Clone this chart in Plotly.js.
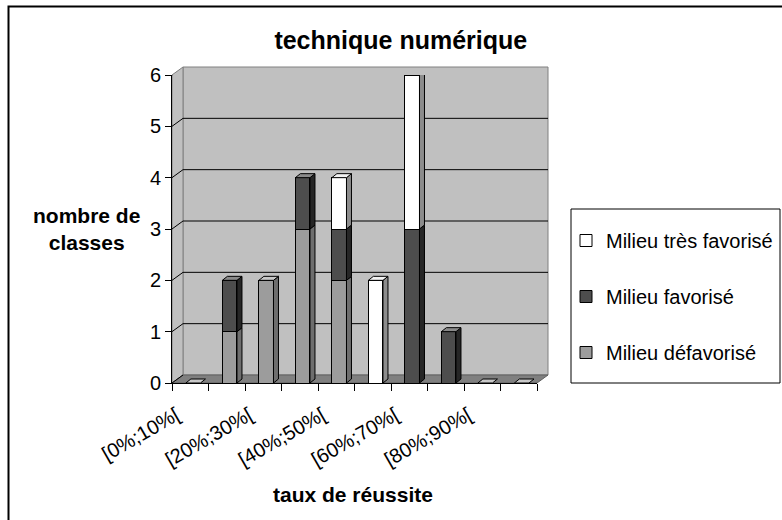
<!DOCTYPE html>
<html>
<head>
<meta charset="utf-8">
<script src="https://cdn.plot.ly/plotly-3.0.1.min.js"></script>
<style>html,body{margin:0;padding:0;background:#fff;}#chart{width:782px;height:520px;}</style>
</head>
<body>
<div id="chart"></div>
<script>
// ---- data ----
const categories = ['[0%;10%[', '[10%;20%[', '[20%;30%[', '[30%;40%[', '[40%;50%[',
                    '[50%;60%[', '[60%;70%[', '[70%;80%[', '[80%;90%[', '[90%;100%]'];
const seriesNames = ['Milieu défavorisé', 'Milieu favorisé', 'Milieu très favorisé'];
const defavorise   = [0, 1, 2, 3, 2, 0, 0, 0, 0, 0];
const favorise     = [0, 1, 0, 1, 1, 0, 3, 1, 0, 0];
const tresFavorise = [0, 0, 0, 0, 1, 2, 3, 0, 0, 0];
const yTicks = [0, 1, 2, 3, 4, 5, 6];
const chartTitle = 'technique numérique';
const xTitle = 'taux de réussite';
const yTitle = 'nombre de<br>classes';

// ---- styles ----
const FONT = 'Liberation Sans, Arial, sans-serif';
const frontCol = ['#9c9c9c', '#4d4d4d', '#ffffff'];
const sideCol  = ['#6e6e6e', '#262626', '#8c8c8c'];
const topCol   = ['#c8c8c8', '#8a8a8a', '#f2f2f2'];
const series = [defavorise, favorise, tresFavorise];
const xIdx = categories.map((_, i) => i);

const W = 0.4, OFF = -0.12;       // bar width / offset in category units
const DDX = 0.137, DDY = 0.078;   // bar depth in data units
const PW = 365, PH = 308;         // plot area size in px
const WDX = 11 / PW, WDY = 8 / PH; // wall depth in paper units

const traces = series.map((vals, s) => ({
  type: 'bar', name: seriesNames[s], x: xIdx, y: vals,
  width: W, offset: OFF, legendgroup: 'g' + s, legendrank: series.length - s,
  marker: {color: frontCol[s], line: {color: '#000', width: 1}},
  hoverinfo: 'skip'
}));
// invisible trace to draw boundary ticks on xaxis2
traces.push({type: 'scatter', x: [0], y: [0], xaxis: 'x2', mode: 'markers',
  marker: {opacity: 0}, showlegend: false, hoverinfo: 'skip'});

const shapes = [];
// back wall
shapes.push({type: 'rect', xref: 'paper', yref: 'paper', x0: WDX, x1: 1 + WDX, y0: WDY, y1: 1 + WDY,
  fillcolor: '#c0c0c0', line: {color: '#808080', width: 1}, layer: 'below'});
// left side wall
shapes.push({type: 'path', xref: 'paper', yref: 'paper',
  path: `M0,0 L0,1 L${WDX},${1 + WDY} L${WDX},${WDY} Z`,
  fillcolor: '#c0c0c0', line: {color: '#808080', width: 1}, layer: 'below'});
// floor
shapes.push({type: 'path', xref: 'paper', yref: 'paper',
  path: `M0,0 L1,0 L${1 + WDX},${WDY} L${WDX},${WDY} Z`,
  fillcolor: '#808080', line: {color: '#606060', width: 1}, layer: 'below'});
// gridlines on back wall + diagonals on side wall
yTicks.forEach(v => {
  if (v > 0 && v < yTicks[yTicks.length - 1]) {
    shapes.push({type: 'line', xref: 'paper', yref: 'y', ysizemode: 'pixel', yanchor: v,
      x0: WDX, x1: 1 + WDX, y0: 8, y1: 8, line: {color: '#000', width: 1}, layer: 'below'});
  }
  shapes.push({type: 'line', xref: 'paper', yref: 'y', ysizemode: 'pixel', yanchor: v,
    x0: 0, x1: WDX, y0: 0, y1: 8, line: {color: '#000', width: 1}, layer: 'below'});
});
// 3D side and top faces of bars
xIdx.forEach(i => {
  let base = 0, topSeries = 0;
  series.forEach((vals, s) => {
    const v = vals[i];
    if (v > 0) {
      const xr = i + OFF + W, t = base + v;
      shapes.push({type: 'path', xref: 'x', yref: 'y',
        path: `M${xr},${base} L${xr + DDX},${base + DDY} L${xr + DDX},${t + DDY} L${xr},${t} Z`,
        fillcolor: sideCol[s], line: {color: '#000', width: 1}, layer: 'above'});
      base = t; topSeries = s;
    }
  });
  const xl = i + OFF, xr = i + OFF + W;
  shapes.push({type: 'path', xref: 'x', yref: 'y',
    path: `M${xl},${base} L${xr},${base} L${xr + DDX},${base + DDY} L${xl + DDX},${base + DDY} Z`,
    fillcolor: topCol[topSeries], line: {color: '#000', width: 1}, layer: 'above'});
});
// legend box
shapes.push({type: 'rect', xref: 'paper', yref: 'paper',
  x0: (571 - 172) / PW, x1: (780 - 172) / PW, y0: 0, y1: (383 - 209) / PH,
  fillcolor: '#fff', line: {color: '#000', width: 1}, layer: 'above'});
// outer chart border
shapes.push({type: 'rect', xref: 'paper', yref: 'paper',
  x0: (8.5 - 172) / PW, x1: (800 - 172) / PW, y0: (383 - 540) / PH, y1: (383 - 6.5) / PH,
  fillcolor: 'rgba(0,0,0,0)', line: {color: '#000', width: 2}, layer: 'above'});

const layout = {
  width: 782, height: 520,
  margin: {l: 172, r: 782 - 172 - PW, t: 75, b: 520 - 75 - PH, autoexpand: false},
  paper_bgcolor: '#fff', plot_bgcolor: 'rgba(0,0,0,0)',
  barmode: 'stack',
  font: {family: FONT, color: '#000', size: 20},
  title: {text: '<b>' + chartTitle + '</b>', font: {family: FONT, size: 25, color: '#000'},
    x: 400.8 / 782, xref: 'container', xanchor: 'center', y: 1 - 40 / 520, yref: 'container', yanchor: 'middle'},
  xaxis: {range: [-0.5, 9.5], tickvals: xIdx.filter(i => i % 2 === 0),
    ticktext: categories.filter((_, i) => i % 2 === 0), tickangle: -30, ticks: '',
    ticklabelshift: -14, ticklabelstandoff: 12, automargin: false,
    showline: true, linecolor: '#000', linewidth: 1, showgrid: false, zeroline: false,
    tickfont: {family: FONT, size: 20, color: '#000'}, fixedrange: true},
  xaxis2: {overlaying: 'x', anchor: 'y', side: 'bottom', range: [-0.5, 9.5],
    tickvals: xIdx.concat([xIdx.length]).map(i => i - 0.5), ticks: 'outside', ticklen: 7,
    tickcolor: '#000', showticklabels: false, showgrid: false, zeroline: false, showline: false},
  yaxis: {range: [0, 6], tickvals: yTicks, ticks: 'outside', ticklen: 6, tickcolor: '#000',
    showline: true, linecolor: '#000', linewidth: 1, showgrid: false, zeroline: false, automargin: false,
    tickfont: {family: FONT, size: 20, color: '#000'}},
  showlegend: true,
  legend: {x: (566 - 172) / PW, xanchor: 'left', y: (383 - 221) / PH, yanchor: 'top',
    traceorder: 'grouped', tracegroupgap: 27, bgcolor: 'rgba(0,0,0,0)', borderwidth: 0,
    font: {family: FONT, size: 20, color: '#000'}},
  annotations: [
    {text: '<b>' + yTitle + '</b>', xref: 'paper', yref: 'paper', x: (86 - 172) / PW, y: (383 - 229) / PH,
      xanchor: 'center', yanchor: 'middle', showarrow: false, font: {family: FONT, size: 21, color: '#000'}},
    {text: '<b>' + xTitle + '</b>', xref: 'paper', yref: 'paper', x: (353 - 172) / PW, y: (383 - 494) / PH,
      xanchor: 'center', yanchor: 'middle', showarrow: false, font: {family: FONT, size: 21, color: '#000'}}
  ],
  shapes: shapes
};

Plotly.newPlot('chart', traces, layout, {displayModeBar: false, staticPlot: true});
</script>
</body>
</html>
